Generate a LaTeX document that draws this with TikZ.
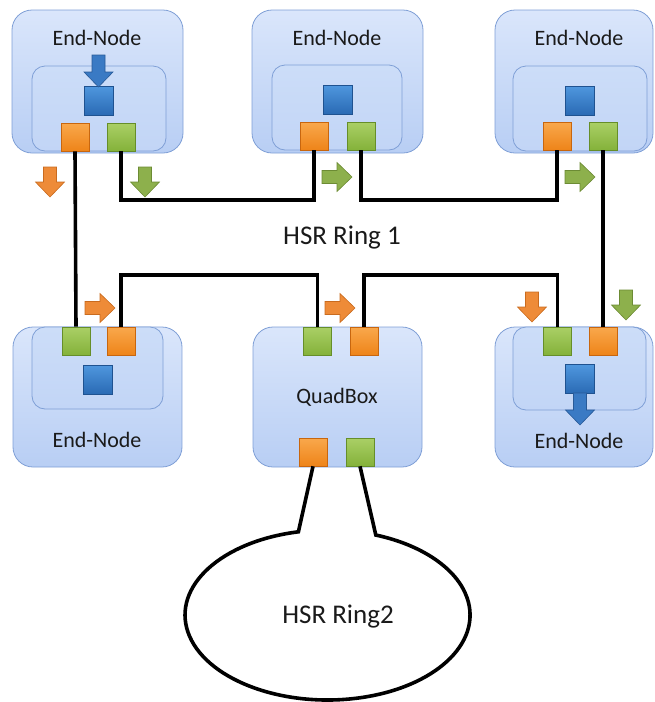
\documentclass[tikz,border=0pt]{standalone}
\usepackage{fontspec}
\setmainfont{Carlito}
\usetikzlibrary{calc}

% palette
\definecolor{boxtop}{HTML}{DAE6FB}
\definecolor{boxbot}{HTML}{B8CEF4}
\definecolor{boxline}{HTML}{7F9FD6}
\definecolor{intop}{HTML}{CCDDF8}
\definecolor{inbot}{HTML}{C2D5F6}
\definecolor{orL}{HTML}{F9A84C}
\definecolor{orM}{HTML}{EE8419}
\definecolor{orD}{HTML}{C8660E}
\definecolor{grL}{HTML}{AACF66}
\definecolor{grM}{HTML}{84B23A}
\definecolor{grD}{HTML}{668E29}
\definecolor{blL}{HTML}{4F97DE}
\definecolor{blM}{HTML}{2A6AB4}
\definecolor{blD}{HTML}{1F5290}
\definecolor{txt}{HTML}{1A1A1A}

\tikzset{
  outerbox/.style={draw=boxline, line width=0.8pt, rounded corners=20pt,
    top color=boxtop, bottom color=boxbot, inner sep=0pt},
  innerbox/.style={draw=boxline, line width=0.8pt, rounded corners=13pt,
    top color=intop, bottom color=inbot, inner sep=0pt},
  oport/.style={draw=orD, line width=0.6pt, top color=orL, bottom color=orM,
    minimum size=28pt, inner sep=0pt},
  gport/.style={draw=grD, line width=0.6pt, top color=grL, bottom color=grM,
    minimum size=28pt, inner sep=0pt},
  bport/.style={draw=blD, line width=0.6pt, top color=blL, bottom color=blM,
    minimum size=29pt, inner sep=0pt},
  title/.style={text=txt, font=\fontsize{22}{26}\selectfont, inner sep=0pt},
  ringlabel/.style={text=txt, font=\fontsize{27}{32}\selectfont, inner sep=0pt},
  wire/.style={draw=black, line width=3.6pt},
  % block arrow pointing along +x, centred on the pic origin
  pics/barrow/.style n args={3}{code={
    \draw[fill=#1, draw=#2, line width=0.6pt]
      (-#3/2,-6.5) -- (#3/2-15,-6.5) -- (#3/2-15,-14.5) -- (#3/2,0)
      -- (#3/2-15,14.5) -- (#3/2-15,6.5) -- (-#3/2,6.5) -- cycle;
  }}
}
\definecolor{arO}{HTML}{EE8B38}
\definecolor{arOD}{HTML}{C96B1F}
\definecolor{arG}{HTML}{8DB04C}
\definecolor{arGD}{HTML}{6C8B34}
\definecolor{arB}{HTML}{3A7AC4}
\definecolor{arBD}{HTML}{285A98}

\begin{document}
\begin{tikzpicture}[x=1pt, y=-1pt]
\useasboundingbox (0,0) rectangle (655,702);

% ---------- top row of end nodes ----------
\node[outerbox, minimum width=171pt, minimum height=143pt] (n1) at (97.5,81.5) {};
\node[innerbox, minimum width=134pt, minimum height=85pt] (n1i) at (99,108.5) {};
\node[title] (n1t) at (97,38) {End-Node};
\node[bport] (n1b) at (98.5,100.5) {};
\node[oport] (n1o) at (75,137) {};
\node[gport] (n1g) at (121,137) {};

\node[outerbox, minimum width=171pt, minimum height=143pt] (n2) at (337.5,81.5) {};
\node[innerbox, minimum width=130pt, minimum height=85pt] (n2i) at (337,107.5) {};
\node[title] (n2t) at (337,38) {End-Node};
\node[bport] (n2b) at (337.5,99.5) {};
\node[oport] (n2o) at (314,136) {};
\node[gport] (n2g) at (361,136) {};

\node[outerbox, minimum width=158pt, minimum height=143pt] (n3) at (574,81.5) {};
\node[innerbox, minimum width=134pt, minimum height=85pt] (n3i) at (580,108.5) {};
\node[title] (n3t) at (579,38) {End-Node};
\node[bport] (n3b) at (580,100.5) {};
\node[oport] (n3o) at (557,136) {};
\node[gport] (n3g) at (603,136) {};

% ---------- bottom row ----------
\node[outerbox, minimum width=169pt, minimum height=140pt] (n4) at (97.5,397) {};
\node[innerbox, minimum width=131pt, minimum height=82pt] (n4i) at (97.5,368) {};
\node[title] (n4t) at (97,440) {End-Node};
\node[gport] (n4g) at (76,341) {};
\node[oport] (n4o) at (121,341) {};
\node[bport] (n4b) at (97.5,379.5) {};

\node[outerbox, minimum width=169pt, minimum height=140pt] (qb) at (337.5,397) {};
\node[title] (qbt) at (337,397) {QuadBox};
\node[gport] (qbg) at (317.5,341) {};
\node[oport] (qbo) at (364,341) {};
\node[oport] (qbbo) at (313,452) {};
\node[gport] (qbbg) at (360,452) {};

\node[outerbox, minimum width=158pt, minimum height=140pt] (n6) at (574,397) {};
\node[innerbox, minimum width=133pt, minimum height=83pt] (n6i) at (579.5,368.5) {};
\node[title] (n6t) at (579,441) {End-Node};
\node[gport] (n6g) at (557.5,341) {};
\node[oport] (n6o) at (603,341) {};
\node[bport] (n6b) at (580,379) {};

% ---------- ring 1 wiring ----------
\coordinate (upper) at (0,200);
\coordinate (lower) at (0,275);
\draw[wire] (n1o.south) -- (n4g.north);
\draw[wire] (n1g.south) -- (n1g.south |- upper) -- (n2o.south |- upper) -- (n2o.south);
\draw[wire] (n2g.south) -- (n2g.south |- upper) -- (n3o.south |- upper) -- (n3o.south);
\draw[wire] (n3g.south) -- (n6o.north);
\draw[wire] (n4o.north) -- (n4o.north |- lower) -- (qbg.north |- lower) -- (qbg.north);
\draw[wire] (qbo.north) -- (qbo.north |- lower) -- (n6g.north |- lower) -- (n6g.north);

\node[ringlabel] (r1) at (342,238) {HSR Ring 1};

% ---------- ring 2 ----------
\coordinate (e1) at (298.4,531.8);
\coordinate (e2) at (375.8,535.0);
\draw[wire] (qbbo.south) -- (e1)
  arc[start angle=101.8, end angle=430.2, x radius=142.5pt, y radius=85pt]
  -- (e2) -- (qbbg.south);
\node[ringlabel] (r2) at (338,617) {HSR Ring2};

% ---------- direction arrows ----------
\pic[rotate=-90] at (98.5,71) {barrow={arB}{arBD}{32}};
\pic[rotate=-90] at (580,409) {barrow={arB}{arBD}{32}};
\pic[rotate=-90] at (50,182) {barrow={arO}{arOD}{30}};
\pic[rotate=-90] at (145,182) {barrow={arG}{arGD}{30}};
\pic at (337,177) {barrow={arG}{arGD}{30}};
\pic at (580,177) {barrow={arG}{arGD}{30}};
\pic at (100,308) {barrow={arO}{arOD}{30}};
\pic at (340,308) {barrow={arO}{arOD}{30}};
\pic[rotate=-90] at (532,307) {barrow={arO}{arOD}{30}};
\pic[rotate=-90] at (626,305) {barrow={arG}{arGD}{30}};
\end{tikzpicture}
\end{document}
